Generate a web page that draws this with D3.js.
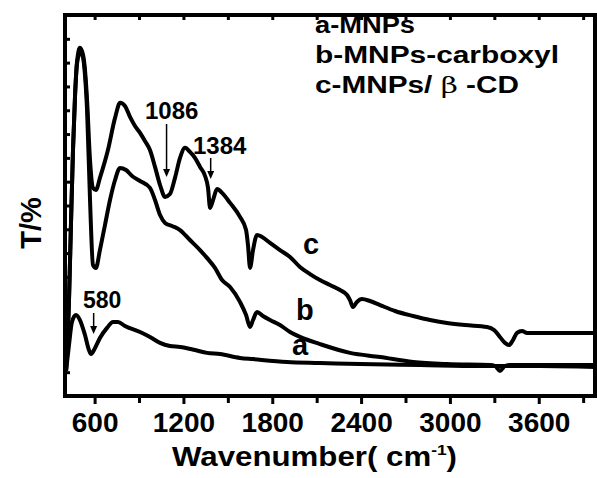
<!DOCTYPE html>
<html>
<head>
<meta charset="utf-8">
<script src="https://cdn.jsdelivr.net/npm/d3@7"></script>
<style>
  body { margin: 0; background: #fff; }
  svg { display: block; }
  text { font-family: "Liberation Sans", Arial, sans-serif; font-weight: bold; fill: #000; }
</style>
</head>
<body>
<script>
// FTIR spectra, values (wavenumber in cm-1, T in arbitrary units)

var wnA = [407, 427, 447, 474, 501, 535, 562, 576, 603, 636, 684, 724, 758, 805, 907, 974, 1042, 1109, 1177, 1278, 1359, 1447, 1582, 1670, 1900, 2122, 2393, 2798, 3203, 3609, 3980];
var tA = [1.05, 2.14, 3.11, 3.40, 3.19, 2.56, 1.93, 1.76, 2.02, 2.44, 2.86, 3.11, 3.11, 2.94, 2.69, 2.48, 2.23, 2.10, 2.06, 1.93, 1.81, 1.76, 1.60, 1.55, 1.43, 1.39, 1.34, 1.30, 1.26, 1.26, 1.22];

var wnB = [407, 427, 441, 454, 468, 481, 501, 522, 535, 549, 569, 589, 609, 636, 670, 704, 738, 772, 812, 853, 907, 974, 1008, 1042, 1076, 1123, 1177, 1244, 1312, 1359, 1413, 1461, 1515, 1582, 1623, 1650, 1670, 1697, 1737, 1785, 1852, 1920, 1987, 2122, 2325, 2528, 2751, 2980, 3271, 3305, 3338, 3372, 3406, 3980];
var tB = [1.05, 4.03, 7.39, 10.33, 12.64, 13.94, 14.45, 14.20, 13.48, 12.01, 8.23, 5.50, 5.38, 6.13, 7.18, 8.23, 9.07, 9.58, 9.49, 9.24, 9.03, 8.74, 8.23, 7.60, 7.27, 7.14, 6.97, 6.55, 6.13, 5.80, 5.38, 4.87, 4.58, 3.95, 3.40, 2.90, 3.19, 3.53, 3.36, 3.19, 2.98, 2.69, 2.48, 2.18, 1.81, 1.64, 1.43, 1.34, 1.30, 1.26, 1.05, 1.26, 1.30, 1.30];

var wnC = [407, 427, 441, 454, 468, 481, 501, 522, 535, 549, 569, 589, 609, 636, 690, 738, 772, 805, 839, 873, 907, 940, 974, 1008, 1042, 1076, 1109, 1143, 1177, 1211, 1244, 1278, 1312, 1346, 1366, 1380, 1400, 1427, 1461, 1515, 1582, 1623, 1636, 1650, 1670, 1697, 1731, 1785, 1852, 1920, 1987, 2055, 2122, 2190, 2258, 2305, 2325, 2345, 2372, 2406, 2460, 2528, 2629, 2751, 2866, 2980, 3102, 3251, 3298, 3338, 3372, 3399, 3426, 3453, 3487, 3521, 3609, 3980];
var tC = [1.05, 4.03, 7.39, 10.33, 12.64, 14.03, 14.62, 14.32, 13.69, 12.43, 9.91, 8.74, 8.65, 9.16, 10.33, 11.68, 12.31, 12.18, 11.72, 11.34, 11.05, 10.71, 10.33, 9.62, 8.86, 8.36, 8.48, 9.16, 10.00, 10.42, 10.25, 10.00, 9.62, 9.24, 8.74, 7.90, 8.23, 8.69, 8.53, 8.11, 7.52, 6.97, 6.34, 5.38, 6.13, 6.76, 6.68, 6.43, 6.13, 5.84, 5.42, 5.12, 4.87, 4.66, 4.45, 4.24, 4.03, 3.74, 3.95, 4.07, 3.99, 3.82, 3.57, 3.36, 3.19, 3.07, 2.98, 2.90, 2.77, 2.48, 2.23, 2.14, 2.35, 2.65, 2.73, 2.65, 2.65, 2.65];

var xTicks = [600, 1200, 1800, 2400, 3000, 3600];
var xMinorTicks = [900, 1500, 2100, 2700, 3300, 3900];
var yTicks = [1, 2, 3, 4, 5, 6, 7, 8, 9, 10, 11, 12, 13, 14, 15];

var legendLines = ['a-MNPs', 'b-MNPs-carboxyl', 'c-MNPs/ ', '\u03b2', ' -CD'];
var curveNames = ['a', 'b', 'c'];
var peakLabels = ['580', '1086', '1384'];
var peakWn = [580, 1086, 1384];

var width = 597, height = 478;
var plotL = 65, plotR = 595, plotT = 15, plotB = 396;

var svg = d3.select('body').append('svg')
  .attr('width', width)
  .attr('height', height);

var x = d3.scaleLinear().domain([400, 3980]).range([plotL, plotR]);
var y = d3.scaleLinear().domain([0, 16]).range([plotB, plotT]);

// axes: bottom outward with labels, the other three inward, no labels
var bottom = svg.append('g')
  .attr('transform', 'translate(0,' + plotB + ')')
  .call(d3.axisBottom(x).tickValues(xTicks).tickSize(8).tickPadding(8).tickFormat(d3.format('d')));
bottom.selectAll('text').style('font-size', '28px').attr('dy', '0.71em');

svg.append('g')
  .attr('transform', 'translate(0,' + plotB + ')')
  .call(d3.axisBottom(x).tickValues(xMinorTicks).tickSize(7).tickFormat(''));

svg.append('g')
  .attr('transform', 'translate(0,' + plotT + ')')
  .call(d3.axisBottom(x).tickValues(xTicks.concat(xMinorTicks)).tickSize(5).tickFormat(''));

svg.append('g')
  .attr('transform', 'translate(' + plotL + ',0)')
  .call(d3.axisRight(y).tickValues(yTicks).tickSize(5).tickFormat(''));

svg.selectAll('.domain').remove();
svg.selectAll('.tick line').attr('stroke', '#000').attr('stroke-width', 3);

// frame
svg.append('rect')
  .attr('x', plotL)
  .attr('y', plotT)
  .attr('width', plotR - plotL)
  .attr('height', plotB - plotT)
  .attr('fill', 'none')
  .attr('stroke', '#000')
  .attr('stroke-width', 4);

// spectra
var series = [
  { name: 'a', wn: wnA, t: tA },
  { name: 'b', wn: wnB, t: tB },
  { name: 'c', wn: wnC, t: tC }
];

var line = d3.line()
  .x(function(d) { return x(d[0]); })
  .y(function(d) { return y(d[1]); })
  .curve(d3.curveMonotoneX);

series.forEach(function(s) {
  svg.append('path')
    .datum(d3.zip(s.wn, s.t))
    .attr('fill', 'none')
    .attr('stroke', '#000')
    .attr('stroke-width', 4)
    .attr('stroke-linejoin', 'round')
    .attr('d', line);
});

// curve letters
var letterPos = [[292, 355], [296, 320], [303, 254]];
curveNames.forEach(function(n, i) {
  svg.append('text')
    .attr('x', letterPos[i][0])
    .attr('y', letterPos[i][1])
    .style('font-size', '29px')
    .text(n);
});

// peak annotations with arrows
var labelPos = [[83, 308, 23], [145, 119, 24], [193, 154, 24]];
var arrowY = [[313, 334], [124, 177], [158, 179]];

peakLabels.forEach(function(p, i) {
  svg.append('text')
    .attr('x', labelPos[i][0])
    .attr('y', labelPos[i][1])
    .style('font-size', labelPos[i][2] + 'px')
    .text(p);

  var ax = x(peakWn[i]) + (i == 0 ? 2 : 0);
  svg.append('line')
    .attr('x1', ax).attr('x2', ax)
    .attr('y1', arrowY[i][0]).attr('y2', arrowY[i][1] - 6)
    .attr('stroke', '#000')
    .attr('stroke-width', 1.5);
  svg.append('path')
    .attr('d', 'M' + (ax - 3.5) + ',' + (arrowY[i][1] - 8) + 'L' + (ax + 3.5) + ',' + (arrowY[i][1] - 8) + 'L' + ax + ',' + arrowY[i][1] + 'Z')
    .attr('fill', '#000');
});

// legend
var lg = svg.append('g').style('font-size', '23px');
lg.append('text').attr('x', 315).attr('y', 33)
  .attr('textLength', 100).attr('lengthAdjust', 'spacingAndGlyphs')
  .text(legendLines[0]);
lg.append('text').attr('x', 315).attr('y', 63)
  .attr('textLength', 244).attr('lengthAdjust', 'spacingAndGlyphs')
  .text(legendLines[1]);
var lc = lg.append('text').attr('x', 315).attr('y', 93)
  .attr('textLength', 204).attr('lengthAdjust', 'spacingAndGlyphs');
lc.append('tspan').text(legendLines[2]);
lc.append('tspan')
  .style('font-family', '"DejaVu Serif", "Liberation Serif", serif')
  .style('font-weight', 'normal')
  .text(legendLines[3]);
lc.append('tspan').text(legendLines[4]);

// axis titles
var xt = svg.append('text')
  .attr('x', 172)
  .attr('y', 466)
  .attr('textLength', 285)
  .attr('lengthAdjust', 'spacingAndGlyphs')
  .style('font-size', '27px');
xt.append('tspan').text('Wavenumber( cm');
xt.append('tspan').attr('dy', -11).style('font-size', '15px').text('-1');
xt.append('tspan').attr('dy', 11).text(')');

svg.append('text')
  .attr('transform', 'translate(41,223) rotate(-90)')
  .attr('text-anchor', 'middle')
  .style('font-size', '29px')
  .text('T/%');
</script>
</body>
</html>
